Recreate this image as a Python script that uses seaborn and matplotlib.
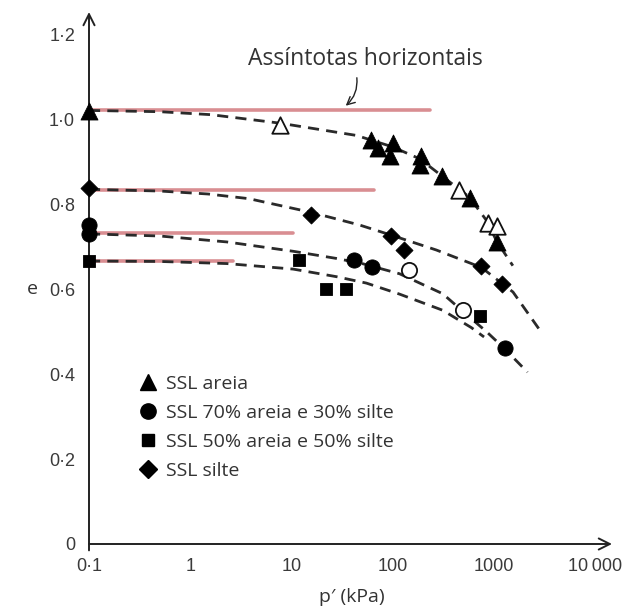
import matplotlib
matplotlib.use("Agg")
import matplotlib.pyplot as plt
import seaborn as sns
from matplotlib.lines import Line2D

# ---------------- data ----------------
# SSL areia (filled triangles)
areia_p = [0.1, 61.8, 71.8, 101, 93.5, 192, 188, 310, 577, 1074]
areia_e = [1.020, 0.953, 0.933, 0.945, 0.914, 0.914, 0.894, 0.867, 0.816, 0.711]
# open triangles
areia_open_p = [7.7, 452, 875, 1074]
areia_open_e = [0.988, 0.835, 0.757, 0.749]

# SSL 70% areia e 30% silte (filled circles)
s70_p = [0.1, 0.1, 41.3, 62.7, 1280]
s70_e = [0.753, 0.730, 0.669, 0.653, 0.461]
# open circles
s70_open_p = [145, 496]
s70_open_e = [0.647, 0.551]

# SSL 50% areia e 50% silte (squares)
s50_p = [0.1, 12, 22.2, 34.4, 730]
s50_e = [0.667, 0.669, 0.601, 0.601, 0.537]

# SSL silte (diamonds)
silte_p = [0.1, 15.5, 97, 129, 752, 1205]
silte_e = [0.838, 0.776, 0.725, 0.694, 0.655, 0.614]

# dashed fitted curves
fit_areia_p = [0.1, 0.5, 1.6, 7.7, 44, 100, 185, 305, 570, 850, 1070, 1540]
fit_areia_e = [1.022, 1.019, 1.012, 0.992, 0.963, 0.936, 0.908, 0.868, 0.818, 0.762, 0.713, 0.656]
fit_silte_p = [0.1, 0.5, 1.5, 3.8, 15.5, 47, 97, 270, 752, 1545, 2790]
fit_silte_e = [0.836, 0.832, 0.825, 0.814, 0.782, 0.752, 0.728, 0.693, 0.652, 0.594, 0.507]
fit_s70_p = [0.1, 0.5, 2.3, 10.4, 28, 50, 117, 312, 470, 850, 1280, 2150]
fit_s70_e = [0.731, 0.726, 0.712, 0.690, 0.673, 0.661, 0.637, 0.590, 0.553, 0.500, 0.460, 0.405]
fit_s50_p = [0.1, 0.5, 2.3, 10.4, 28, 55, 117, 312, 600, 800]
fit_s50_e = [0.667, 0.666, 0.661, 0.648, 0.630, 0.615, 0.589, 0.551, 0.510, 0.488]

# horizontal asymptotes
asym_e = [1.023, 0.835, 0.733, 0.667]
asym_end_p = [232, 65.6, 10.4, 2.66]
asym_start_p = 0.1

legend_labels = ["SSL areia", "SSL 70% areia e 30% silte",
                 "SSL 50% areia e 50% silte", "SSL silte"]

x_ticks = [0.1, 1, 10, 100, 1000, 10000]
x_ticklabels = ["0\u00b71", "1", "10", "100", "1000", "10\u2009000"]
y_ticks = [0, 0.2, 0.4, 0.6, 0.8, 1.0, 1.2]
y_ticklabels = ["0", "0\u00b72", "0\u00b74", "0\u00b76", "0\u00b78", "1\u00b70", "1\u00b72"]

# ---------------- figure ----------------
sns.set_theme(style="white")
plt.rcParams['font.family'] = ['Liberation Sans', 'DejaVu Sans']

W, H = 625, 611
fig = plt.figure(figsize=(W / 100, H / 100), dpi=100)
ax_l, ax_r, ax_b, ax_t = 89, 612, 544, 12
ax = fig.add_axes([ax_l / W, (H - ax_b) / H, (ax_r - ax_l) / W, (ax_b - ax_t) / H])
ax.set_xscale('log')
ax.set_xlim(0.1, 14700)
ax.set_ylim(0, 1.254)

red = '#d98e92'
for e, pe in zip(asym_e, asym_end_p):
    sns.lineplot(x=[asym_start_p, pe], y=[e, e], ax=ax, color=red, lw=2.6,
                 zorder=2, legend=False)

for px, ey in [(fit_areia_p, fit_areia_e), (fit_silte_p, fit_silte_e),
               (fit_s70_p, fit_s70_e), (fit_s50_p, fit_s50_e)]:
    sns.lineplot(x=px, y=ey, ax=ax, color='#2a2a2a', lw=2.0, dashes=False,
                 sort=False, estimator=None, zorder=3, legend=False)
for ln in ax.get_lines()[len(asym_e):]:
    ln.set_dashes((4, 2.6))

filled = dict(color='black', edgecolor='black', linewidth=0.6, zorder=6, clip_on=False,
              legend=False)
sns.scatterplot(x=areia_p, y=areia_e, marker='^', s=150, ax=ax, **filled)
sns.scatterplot(x=s70_p, y=s70_e, marker='o', s=120, ax=ax, **filled)
sns.scatterplot(x=s50_p, y=s50_e, marker='s', s=85, ax=ax, **filled)
sns.scatterplot(x=silte_p, y=silte_e, marker='D', s=75, ax=ax, **filled)
opn = dict(facecolor='white', edgecolor='#111111', linewidth=1.3, zorder=6, legend=False)
sns.scatterplot(x=areia_open_p, y=areia_open_e, marker='^', s=140, ax=ax, **opn)
sns.scatterplot(x=s70_open_p, y=s70_open_e, marker='o', s=120, ax=ax, **opn)

# axes with arrows
for s in ax.spines.values():
    s.set_visible(False)
ax.annotate('', xy=(1, 0), xytext=(0, 0), xycoords='axes fraction',
            arrowprops=dict(arrowstyle='->', lw=1.4, color='#222222', mutation_scale=20,
                            shrinkA=0, shrinkB=0), zorder=4)
ax.annotate('', xy=(0, 1), xytext=(0, -0.012), xycoords='axes fraction',
            arrowprops=dict(arrowstyle='->', lw=1.4, color='#222222', mutation_scale=20,
                            shrinkA=0, shrinkB=0), zorder=4)

ax.set_xticks(x_ticks)
ax.set_xticklabels(x_ticklabels)
ax.set_yticks(y_ticks)
ax.set_yticklabels(y_ticklabels)
ax.minorticks_off()
ax.tick_params(axis='both', direction='out', length=6, width=1, color='#9a9a9a',
               labelsize=13, labelcolor='#3a3a3a')
ax.tick_params(axis='y', pad=4)
ax.tick_params(axis='x', pad=4)

calibri_like = ['Open Sans', 'DejaVu Sans']
axw, axh = ax_r - ax_l, ax_b - ax_t
ax.set_ylabel('e', rotation=0, fontsize=14, family=calibri_like, color='#333333',
              va='center', ha='center')
ax.yaxis.set_label_coords((32 - ax_l) / axw, (ax_b - 289) / axh)
ax.set_xlabel('p\u2032 (kPa)', fontsize=14, family=calibri_like, color='#333333',
              va='center', ha='center')
ax.xaxis.set_label_coords((352 - ax_l) / axw, (ax_b - 597) / axh)

# annotation
ax.text(54, 1.143, 'Ass\u00edntotas horizontais', fontsize=16.5, family=calibri_like,
        color='#333333', ha='center', va='center')
ax.annotate('', xy=(34.4, 1.033), xytext=(44.3, 1.099), xycoords='data',
            arrowprops=dict(arrowstyle='->', lw=1.0, color='#222222', mutation_scale=14,
                            connectionstyle='arc3,rad=-0.25', shrinkA=0, shrinkB=0))

# legend
handles = [
    Line2D([], [], marker='^', color='black', ls='', markersize=12),
    Line2D([], [], marker='o', color='black', ls='', markersize=11),
    Line2D([], [], marker='s', color='black', ls='', markersize=9),
    Line2D([], [], marker='D', color='black', ls='', markersize=9),
]
leg = ax.legend(handles, legend_labels, loc='upper left',
                bbox_to_anchor=((141 - ax_l) / axw, (ax_b - 375) / axh),
                frameon=False, borderpad=0, borderaxespad=0, handlelength=0.75,
                handletextpad=0.55, labelspacing=0.56,
                prop=dict(family=calibri_like, size=14))
for t in leg.get_texts():
    t.set_color('#333333')

fig.savefig('out.png', dpi=100)
